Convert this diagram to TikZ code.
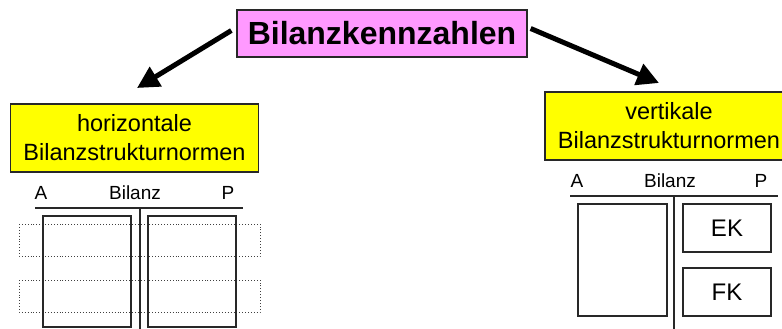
\documentclass[tikz,border=0pt]{standalone}
\usepackage{fontspec}
\setmainfont{Liberation Sans}
\usetikzlibrary{arrows.meta,positioning}
\definecolor{titlepink}{RGB}{255,153,255}
\definecolor{normyellow}{RGB}{255,255,0}
\definecolor{edgegray}{RGB}{40,40,40}
\tikzset{
  titlebox/.style={draw=edgegray,line width=1.3pt,fill=titlepink,minimum width=290pt,minimum height=47pt,
    inner sep=0pt,font=\fontsize{32}{34}\selectfont\bfseries},
  normbox/.style={draw=edgegray,line width=1.3pt,fill=normyellow,minimum width=248pt,minimum height=68pt,
    align=center,inner sep=0pt,font=\fontsize{23.5}{29}\selectfont},
  bigarrow/.style={-{Triangle[length=22pt,width=22pt]},line width=5pt},
  konto/.style={line width=1.2pt,draw=edgegray},
  kbox/.style={draw=edgegray,line width=1.2pt,inner sep=0pt,font=\fontsize{24}{26}\selectfont},
  schicht/.style={dotted,draw=black!75,line width=0.9pt},
  kopf/.style={anchor=base,inner sep=0pt,font=\fontsize{19}{21}\selectfont}
}
\begin{document}
\begin{tikzpicture}[x=1pt,y=-1pt]
  \useasboundingbox (0,0) rectangle (782,329);
  % Titel und Normen
  \node[titlebox] (title) at (382,33.5) {Bilanzkennzahlen};
  \node[normbox] (hnorm) at (134.5,138) {horizontale\\Bilanzstrukturnormen};
  \node[normbox] (vnorm) at (669,126) {vertikale\\Bilanzstrukturnormen};
  \coordinate (ltip) at (137,88);
  \coordinate (rtip) at (659,83);
  \draw[bigarrow] ([xshift=-5pt,yshift=3pt]title.west) -- (ltip);
  \draw[bigarrow] ([xshift=3pt,yshift=5pt]title.east) -- (rtip);

  % horizontale Bilanz
  \node[kopf] (ha) at (41,199) {A};
  \node[kopf] (hbil) at (135,199) {Bilanz};
  \node[kopf] (hp) at (228,199) {P};
  \draw[schicht] (19,224) rectangle (260,256);
  \draw[schicht] (19,280) rectangle (260,312);
  \draw[konto] (35,208) -- (243,208);
  \draw[konto] (140,208) -- (140,332);
  \draw[konto] (43,216) rectangle (131,327);
  \draw[konto] (148,216) rectangle (236,327);

  % vertikale Bilanz
  \node[kopf] (va) at (577,187) {A};
  \node[kopf] (vbil) at (670,187) {Bilanz};
  \node[kopf] (vp) at (761,187) {P};
  \draw[konto] (570,196) -- (778,196);
  \draw[konto] (674,196) -- (674,332);
  \draw[konto] (578,204) rectangle (667,316);
  \node[kbox,minimum width=88pt,minimum height=48pt] (ek) at (727,228) {EK};
  \node[kbox,minimum width=88pt,minimum height=48pt] (fk) at (727,292) {FK};
\end{tikzpicture}
\end{document}
